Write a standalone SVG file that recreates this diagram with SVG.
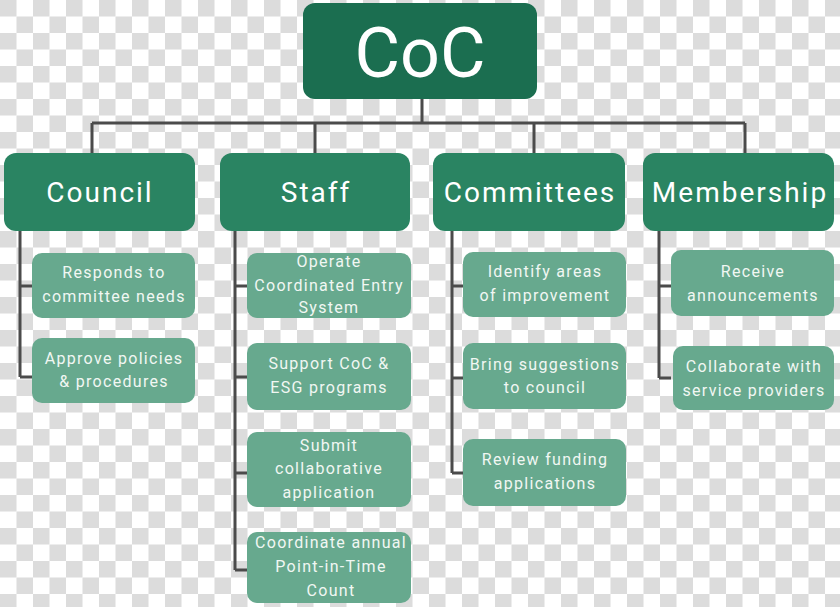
<svg xmlns="http://www.w3.org/2000/svg" width="840" height="607" viewBox="0 0 840 607">
<defs>
<pattern id="chk" x="0" y="0" width="33" height="33" patternUnits="userSpaceOnUse">
<rect width="33" height="33" fill="#ffffff"/>
<rect x="0" y="0" width="16.5" height="16.5" fill="#dcdcdc"/>
<rect x="16.5" y="16.5" width="16.5" height="16.5" fill="#dcdcdc"/>
</pattern>
<style>
.root{fill:#1b6e50}
.top{fill:#2a8462}
.sub{fill:#67a98e}
.ln{stroke:#4b4b4b;stroke-width:3;fill:none}
.tt{font-family:Roboto,"Liberation Sans",sans-serif;fill:#ffffff;text-anchor:middle}
.h1{font-size:70px}
.h2{font-size:28px;letter-spacing:2px}
.s{font-size:16px;letter-spacing:1.3px;fill:#f1f7f3}
</style>
</defs>
<rect width="840" height="607" fill="url(#chk)"/>
<g id="connectors">
<path class="ln" d="M422 99V123M92 123H745M92 123V153M315 123V153M534 123V153M745 123V153"/>
<path class="ln" d="M20 231V377M20 286H32M20 377H32"/>
<path class="ln" d="M235 231V570M235 286H247M235 377H247M235 473H247M235 570H247"/>
<path class="ln" d="M452 231V473M452 286H463M452 378H463M452 473H463"/>
<path class="ln" d="M659 230V378M659 286H671M659 378H671"/>
</g>
<g id="coc"><rect class="root" x="303" y="3" width="234" height="96" rx="12"/><text class="tt h1" x="420" y="77">CoC</text></g>
<g id="council"><rect class="top" x="4" y="153" width="191" height="78" rx="12"/><text class="tt h2" x="100" y="202">Council</text></g>
<g id="staff"><rect class="top" x="220" y="153" width="190" height="78" rx="12"/><text class="tt h2" x="316" y="202">Staff</text></g>
<g id="committees"><rect class="top" x="433" y="153" width="192" height="78" rx="12"/><text class="tt h2" x="530" y="202">Committees</text></g>
<g id="membership"><rect class="top" x="643" y="153" width="191" height="78" rx="12"/><text class="tt h2" x="740" y="202">Membership</text></g>

<g id="council-1"><rect class="sub" x="32" y="253" width="163" height="65" rx="10"/><text class="tt s" x="114" y="278">Responds to</text><text class="tt s" x="114" y="302">committee needs</text></g>
<g id="council-2"><rect class="sub" x="32" y="338" width="163" height="65" rx="10"/><text class="tt s" x="114" y="364">Approve policies</text><text class="tt s" x="114" y="387">&amp; procedures</text></g>

<g id="staff-1"><rect class="sub" x="247" y="253" width="164" height="65" rx="10"/><text class="tt s" x="329" y="267">Operate</text><text class="tt s" x="329" y="291">Coordinated Entry</text><text class="tt s" x="329" y="313">System</text></g>
<g id="staff-2"><rect class="sub" x="247" y="343" width="164" height="67" rx="10"/><text class="tt s" x="329" y="369">Support CoC &amp;</text><text class="tt s" x="329" y="393">ESG programs</text></g>
<g id="staff-3"><rect class="sub" x="247" y="432" width="164" height="75" rx="10"/><text class="tt s" x="329" y="451">Submit</text><text class="tt s" x="329" y="474">collaborative</text><text class="tt s" x="329" y="498">application</text></g>
<g id="staff-4"><rect class="sub" x="247" y="532" width="164" height="71" rx="10"/><text class="tt s" x="331" y="548">Coordinate annual</text><text class="tt s" x="331" y="572">Point-in-Time</text><text class="tt s" x="331" y="596">Count</text></g>

<g id="committees-1"><rect class="sub" x="463" y="252" width="163" height="65" rx="10"/><text class="tt s" x="545" y="277">Identify areas</text><text class="tt s" x="545" y="301">of improvement</text></g>
<g id="committees-2"><rect class="sub" x="463" y="343" width="163" height="66" rx="10"/><text class="tt s" x="545" y="370">Bring suggestions</text><text class="tt s" x="545" y="393">to council</text></g>
<g id="committees-3"><rect class="sub" x="463" y="439" width="163" height="67" rx="10"/><text class="tt s" x="545" y="465">Review funding</text><text class="tt s" x="545" y="489">applications</text></g>

<g id="membership-1"><rect class="sub" x="671" y="250" width="163" height="66" rx="10"/><text class="tt s" x="753" y="277">Receive</text><text class="tt s" x="753" y="301">announcements</text></g>
<g id="membership-2"><rect class="sub" x="673" y="346" width="161" height="64" rx="10"/><text class="tt s" x="754" y="372">Collaborate with</text><text class="tt s" x="754" y="396">service providers</text></g>
</svg>
